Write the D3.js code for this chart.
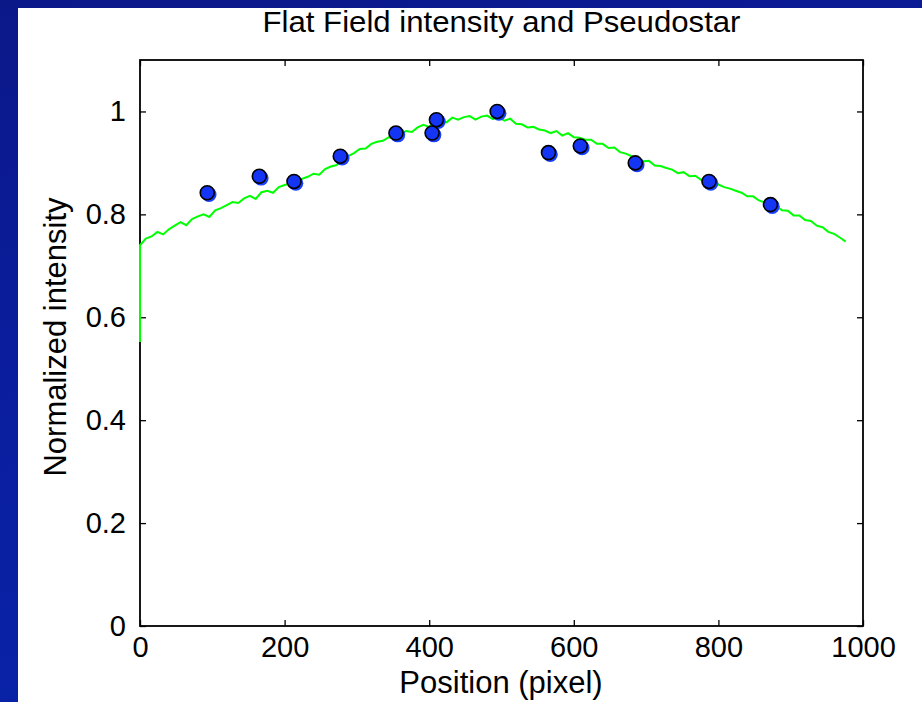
<!DOCTYPE html>
<html>
<head>
<meta charset="utf-8">
<script src="https://d3js.org/d3.v7.min.js"></script>
<style>
  body { margin: 0; }
  text { font-family: "Liberation Sans", Arial, sans-serif; fill: #000; }
</style>
</head>
<body>
<script>
// pseudostar measurements (blue dots)
var starX = [93, 165, 213, 277, 354, 404, 410, 494, 565, 609, 685, 787, 872];
var starY = [0.842, 0.874, 0.864, 0.913, 0.958, 0.958, 0.984, 1.0, 0.920, 0.933, 0.900, 0.864, 0.819];

// flat field profile (green line)
var flatX = [0,
  0, 8, 16, 24, 32, 40, 48, 56, 64, 72, 80, 88, 96, 104, 112, 120, 128, 136, 144, 152,
  160, 168, 176, 184, 192, 200, 208, 216, 224, 232, 240, 248, 256, 264, 272, 280, 288, 296, 304, 312,
  320, 328, 336, 344, 352, 360, 368, 376, 384, 392, 400, 408, 416, 424, 432, 440, 448, 456, 464, 472,
  480, 488, 496, 504, 512, 520, 528, 536, 544, 552, 560, 568, 576, 584, 592, 600, 608, 616, 624, 632,
  640, 648, 656, 664, 672, 680, 688, 696, 704, 712, 720, 728, 736, 744, 752, 760, 768, 776, 784, 792,
  800, 808, 816, 824, 832, 840, 848, 856, 864, 872, 880, 888, 896, 904, 912, 920, 928, 936, 944, 952,
  960, 968, 976];
var flatY = [0.552,
  0.740, 0.753, 0.757, 0.766, 0.761, 0.771, 0.778, 0.785, 0.779, 0.791, 0.796, 0.800, 0.795, 0.808, 0.812, 0.818, 0.824, 0.822, 0.831, 0.836,
  0.830, 0.843, 0.846, 0.842, 0.853, 0.857, 0.860, 0.855, 0.869, 0.873, 0.879, 0.877, 0.888, 0.893, 0.896, 0.905, 0.913, 0.919, 0.927, 0.928,
  0.937, 0.941, 0.943, 0.950, 0.949, 0.956, 0.962, 0.960, 0.969, 0.974, 0.970, 0.979, 0.983, 0.979, 0.988, 0.984, 0.989, 0.991, 0.984, 0.990,
  0.992, 0.985, 0.990, 0.982, 0.986, 0.976, 0.975, 0.969, 0.970, 0.965, 0.963, 0.958, 0.962, 0.953, 0.958, 0.950, 0.949, 0.945, 0.945, 0.937,
  0.937, 0.929, 0.930, 0.921, 0.918, 0.913, 0.909, 0.903, 0.904, 0.895, 0.894, 0.890, 0.887, 0.880, 0.882, 0.874, 0.875, 0.867, 0.865, 0.862,
  0.858, 0.853, 0.850, 0.846, 0.842, 0.835, 0.835, 0.827, 0.823, 0.818, 0.816, 0.808, 0.807, 0.798, 0.798, 0.789, 0.787, 0.778, 0.775, 0.766,
  0.762, 0.755, 0.747];

var xTicks = [0, 200, 400, 600, 800, 1000];
var yTicks = [0, 0.2, 0.4, 0.6, 0.8, 1];

var width = 922, height = 702;
var plotLeft = 140, plotRight = 863, plotTop = 60, plotBottom = 626;

var svg = d3.select("body").append("svg")
    .attr("width", width)
    .attr("height", height);

// slide background
var grad = svg.append("defs").append("linearGradient")
    .attr("id", "bg")
    .attr("x1", "0").attr("y1", "0").attr("x2", "0.3").attr("y2", "1");
grad.append("stop").attr("offset", "0").attr("stop-color", "#0b1888");
grad.append("stop").attr("offset", "0.5").attr("stop-color", "#0a1d9e");
grad.append("stop").attr("offset", "1").attr("stop-color", "#0823a8");

svg.append("rect").attr("width", width).attr("height", height).attr("fill", "url(#bg)");
svg.append("rect").attr("x", 18).attr("y", 8)
    .attr("width", width - 18).attr("height", height - 8)
    .attr("fill", "#fff");

var x = d3.scaleLinear().domain([0, 1000]).range([plotLeft, plotRight]);
var y = d3.scaleLinear().domain([0, 1.1]).range([plotBottom, plotTop]);

var fmtY = function(d) { return d === 0 ? "0" : d === 1 ? "1" : d3.format(".1f")(d); };

// axes with inward ticks on all four sides
function styleAxis(g) {
    g.select(".domain").remove();
    g.selectAll(".tick line").attr("stroke", "#000").attr("stroke-width", 1.3);
    g.selectAll(".tick text")
        .style("font-size", "29px")
        .attr("fill", "#000");
}

// frame
svg.append("rect")
    .attr("x", plotLeft).attr("y", plotTop)
    .attr("width", plotRight - plotLeft).attr("height", plotBottom - plotTop)
    .attr("fill", "none")
    .attr("stroke", "#000")
    .attr("stroke-width", 1.8);

svg.append("g")
    .attr("transform", "translate(0," + plotBottom + ")")
    .call(d3.axisBottom(x).tickValues(xTicks).tickSizeInner(-6).tickSizeOuter(0).tickPadding(10).tickFormat(d3.format("d")))
    .call(styleAxis);

svg.append("g")
    .attr("transform", "translate(0," + plotTop + ")")
    .call(d3.axisTop(x).tickValues(xTicks).tickSizeInner(-6).tickSizeOuter(0).tickFormat(""))
    .call(styleAxis);

svg.append("g")
    .attr("transform", "translate(" + plotLeft + ",0)")
    .call(d3.axisLeft(y).tickValues(yTicks).tickSizeInner(-6).tickSizeOuter(0).tickPadding(14).tickFormat(fmtY))
    .call(styleAxis);

svg.append("g")
    .attr("transform", "translate(" + plotRight + ",0)")
    .call(d3.axisRight(y).tickValues(yTicks).tickSizeInner(-6).tickSizeOuter(0).tickFormat(""))
    .call(styleAxis);

// flat field line (drawn over the frame, as in the original)
var line = d3.line()
    .x(function(d, i) { return x(flatX[i]); })
    .y(function(d) { return y(d); });

svg.append("path")
    .datum(flatY)
    .attr("d", line)
    .attr("fill", "none")
    .attr("stroke", "#00ff00")
    .attr("stroke-width", 2)
    .attr("stroke-linejoin", "miter");

// pseudostar dots (with the slight blue offset halo)
var stars = starX.map(function(v, i) { return {x: v, y: starY[i]}; });

svg.append("g").selectAll("circle")
    .data(stars)
    .enter().append("circle")
    .attr("cx", function(d) { return x(d.x) + 1.8; })
    .attr("cy", function(d) { return y(d.y) + 1.8; })
    .attr("r", 7.5)
    .attr("fill", "#1a40ff");

svg.append("g").selectAll("circle")
    .data(stars)
    .enter().append("circle")
    .attr("cx", function(d) { return x(d.x); })
    .attr("cy", function(d) { return y(d.y); })
    .attr("r", 7)
    .attr("fill", "#1535f5")
    .attr("stroke", "#000")
    .attr("stroke-width", 1.6);

// titles
svg.append("text")
    .attr("x", (plotLeft + plotRight) / 2)
    .attr("y", 32)
    .attr("text-anchor", "middle")
    .attr("textLength", 478)
    .attr("lengthAdjust", "spacingAndGlyphs")
    .style("font-size", "30px")
    .text("Flat Field intensity and Pseudostar");

svg.append("text")
    .attr("x", 501)
    .attr("y", 693)
    .attr("text-anchor", "middle")
    .style("font-size", "31px")
    .text("Position (pixel)");

svg.append("text")
    .attr("transform", "translate(66,337) rotate(-90)")
    .attr("text-anchor", "middle")
    .style("font-size", "31px")
    .text("Normalized intensity");
</script>
</body>
</html>
